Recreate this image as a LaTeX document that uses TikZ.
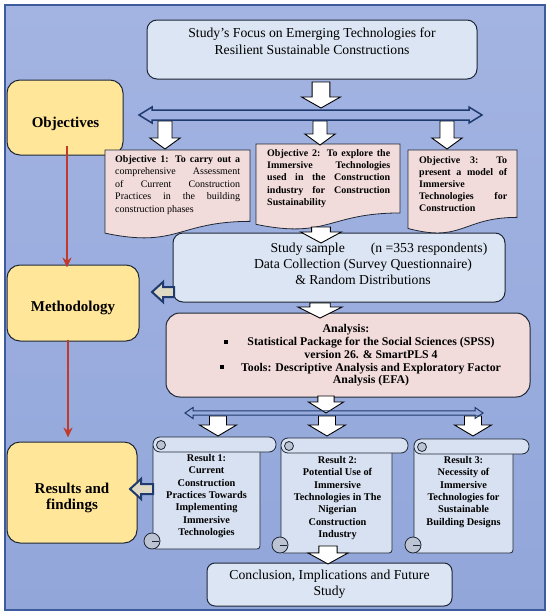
\documentclass[tikz,border=0pt]{standalone}
\usepackage{fontspec}
\setmainfont{Liberation Serif}
\usetikzlibrary{calc, arrows.meta}

\hyphenpenalty=10000
\exhyphenpenalty=10000

\definecolor{frametop}{HTML}{A3B4E2}
\definecolor{framebot}{HTML}{92A6DA}
\definecolor{frameline}{HTML}{3D5C9E}
\definecolor{edge}{HTML}{1E2735}
\definecolor{boxblue}{HTML}{DCE5F3}
\definecolor{boxpink}{HTML}{F2DCDB}
\definecolor{boxyellow}{HTML}{FFE699}
\definecolor{scrollblue}{HTML}{D8E1F1}
\definecolor{curl}{HTML}{BCC3D2}
\definecolor{hubfill}{HTML}{EFEBD2}
\definecolor{hubline}{HTML}{1F3A6E}
\definecolor{backfill}{HTML}{DDD9C3}
\definecolor{redline}{HTML}{C0392B}

\tikzset{
  box/.style={draw=edge, line width=1pt, inner sep=0pt, rounded corners=10pt},
  bluebox/.style={box, fill=boxblue},
  pinkbox/.style={box, fill=boxpink},
  yellowbox/.style={box, fill=boxyellow, rounded corners=13pt},
  docline/.style={draw=edge, line width=0.8pt, fill=boxpink},
  scrollline/.style={draw=edge, line width=0.8pt, fill=scrollblue},
  blockarrow/.style={draw=black, line width=0.9pt, fill=white},
  hubshape/.style={draw=hubline, line width=1.5pt, fill=hubfill},
  backshape/.style={draw=hubline, line width=2pt, fill=backfill},
  redarrow/.style={draw=redline, line width=2pt, -{Stealth[length=10pt,width=9pt]}},
  bigtext/.style={font=\fontsize{13.7}{16.3}\selectfont, align=center, inner sep=0pt},
  labeltext/.style={font=\fontsize{15}{16}\selectfont\bfseries, align=center, inner sep=0pt},
  objtext/.style={font=\fontsize{10}{12.5}\selectfont, align=justify, inner sep=0pt, anchor=north west},
  antext/.style={font=\fontsize{11.8}{12.8}\selectfont\bfseries, align=center, inner sep=0pt},
  restext/.style={font=\fontsize{10.3}{12.4}\selectfont\bfseries, align=center, inner sep=0pt, anchor=north}
}

% block arrow pointing down, [width factor]{from}{to}
\newcommand{\dnarrow}[3][1]{%
  \draw[blockarrow] let \p1=(#2), \p2=(#3) in
    (\x1-8.5pt*#1,\y1) -- (\x1+8.5pt*#1,\y1) -- (\x1+8.5pt*#1,\y2+11pt) -- (\x1+18.5pt*#1,\y2+11pt)
    -- (\x1,\y2) -- (\x1-18.5pt*#1,\y2+11pt) -- (\x1-8.5pt*#1,\y2+11pt) -- cycle;}
% double headed bar: {left}{right}{half shaft}{half head}{head length}
\newcommand{\hubarrow}[5]{%
  \draw let \p1=(#1), \p2=(#2) in
    (\x1,\y1) -- (\x1+#5,\y1+#4) -- (\x1+#5,\y1+#3) -- (\x2-#5,\y1+#3) -- (\x2-#5,\y1+#4)
    -- (\x2,\y1) -- (\x2-#5,\y1-#4) -- (\x2-#5,\y1-#3) -- (\x1+#5,\y1-#3) -- (\x1+#5,\y1-#4) -- cycle;}
% hollow arrow pointing left: {base}{tip}
\newcommand{\backarrow}[2]{%
  \draw[backshape] let \p1=(#1), \p2=(#2) in
    (\x2,\y2) -- (\x2+11pt,\y2+10pt) -- (\x2+11pt,\y2+5pt) -- (\x1,\y2+5pt)
    -- (\x1,\y2-5pt) -- (\x2+11pt,\y2-5pt) -- (\x2+11pt,\y2-10pt) -- cycle;}
% document shape: {left}{right}{top}{height}
\newcommand{\docshape}[4]{%
  \filldraw[docline] (#1,#3) -- (#2,#3) -- (#2,#3+0.802*#4)
    .. controls ({(#1+#2)/2},#3+0.802*#4) and ({(#1+#2)/2},#3+1.1075*#4) .. (#1,#3+0.934*#4) -- cycle;}
% scroll shape: {left}{right}{top}{bottom}
\newcommand{\scrollshape}[4]{%
  \filldraw[scrollline, rounded corners=3pt] (#1,#3+7) -- (#1,#4) -- (#2,#4) -- (#2,#3+7) -- cycle;
  \filldraw[scrollline, rounded corners=7pt] (#1,#3) rectangle (#2+16,#3+15);
  \filldraw[scrollline, fill=curl] (#1+8,#3+8) circle [radius=4.5];
  \filldraw[scrollline, fill=curl] (#1-1,#4-8) circle [radius=8];
  \draw[edge, line width=0.6pt] (#1-1,#4-8) -- (#1+6,#4-8);}

\begin{document}
\begin{tikzpicture}[x=1pt, y=-1pt]
  \useasboundingbox (0,0) rectangle (550,616);
  \shadedraw[top color=frametop, bottom color=framebot, draw=frameline, line width=1.2pt] (5,5) rectangle (545,610);

  \node[bluebox, minimum width=330pt, minimum height=59pt] (title) at (312,49.5) {};
  \node[yellowbox, minimum width=116pt, minimum height=75pt] (objbox) at (65,117.5) {};
  \node[yellowbox, minimum width=132pt, minimum height=76pt] (methbox) at (73,303) {};
  \node[yellowbox, minimum width=130pt, minimum height=101pt] (resbox) at (72,492.5) {};
  \node[bluebox, minimum width=332pt, minimum height=69pt] (study) at (339,267.5) {};
  \node[pinkbox, minimum width=364pt, minimum height=84pt, rounded corners=14pt] (analysis) at (348,355) {};
  \node[bluebox, bigtext, minimum width=245pt, minimum height=43pt, rounded corners=8pt] (concl) at (329.5,584.5)
    {Conclusion, Implications and Future\\Study};

  \docshape{105}{250}{150}{89}
  \docshape{256}{400}{144}{86}
  \docshape{408}{517}{150}{84}

  \scrollshape{153}{260}{437}{549}
  \scrollshape{281}{392}{438}{553}
  \scrollshape{414}{513}{439}{553}

  \draw[redarrow] ([xshift=2pt,yshift=10pt]objbox.south) -- ([xshift=-6pt,yshift=-3pt]methbox.north);
  \draw[redarrow] ([xshift=-5pt,yshift=2pt]methbox.south) -- ([xshift=-4pt,yshift=4pt]resbox.north);

  \coordinate (focus1) at (321,82);
  \coordinate (focus2) at (321,108);
  \dnarrow[1.05]{focus1}{focus2}
  \foreach \xa/\yb [count=\i] in {165/149, 320/145, 447/149} {
    \coordinate (up\i) at (\xa,121);
    \coordinate (dn\i) at (\xa,\yb);
    \dnarrow[0.82]{up\i}{dn\i}
  }
  \coordinate (hubL) at (139,115);
  \coordinate (hubR) at (482,115);
  \begin{scope}[hubshape]
    \hubarrow{hubL}{hubR}{5pt}{8pt}{13pt}
  \end{scope}

  \coordinate (obj2b) at (321,227);
  \coordinate (studyt) at (321,243);
  \dnarrow[1.1]{obj2b}{studyt}
  \coordinate (studyb) at (320,303);
  \coordinate (anat) at (320,318);
  \dnarrow[1.2]{studyb}{anat}
  \coordinate (anab) at (326,396);
  \coordinate (splitt) at (326,413);
  \dnarrow[0.95]{anab}{splitt}
  \foreach \xa [count=\i] in {218, 327, 473} {
    \coordinate (rup\i) at (\xa,416);
    \coordinate (rdn\i) at (\xa,436);
    \dnarrow{rup\i}{rdn\i}
  }
  \coordinate (splitL) at (185,413);
  \coordinate (splitR) at (483,413);
  \begin{scope}[hubshape, line width=1pt]
    \hubarrow{splitL}{splitR}{2.2pt}{5.5pt}{8pt}
  \end{scope}
  \coordinate (res2b) at (328,546);
  \coordinate (conclt) at (328,564);
  \dnarrow[1.08]{res2b}{conclt}

  \coordinate (studyl) at (174,292);
  \coordinate (methr) at (152,292);
  \backarrow{studyl}{methr}
  \coordinate (res1l) at (153,489);
  \coordinate (findr) at (130,489);
  \backarrow{res1l}{findr}

  \node[bigtext, anchor=north] (titletext) at (312,28)
    {Study's Focus on Emerging Technologies for\\Resilient Sustainable Constructions};
  \node[labeltext, anchor=base] (objlabel) at (65.5,127.7) {Objectives};
  \node[labeltext, anchor=base] (methlabel) at (73,311) {Methodology};
  \node[labeltext, anchor=north] (reslabel) at (72,482.4) {Results and\\findings};

  \node[objtext, text width=125pt] (obj1) at (115,155)
    {\textbf{Objective 1: To carry out a}\linebreak comprehensive Assessment\linebreak of Current Construction\linebreak Practices in the building\linebreak construction phases};
  \node[objtext, text width=123pt, font=\fontsize{10}{12.3}\selectfont\bfseries] (obj2) at (267,149)
    {Objective 2: To explore the\linebreak Immersive Technologies\linebreak used in the Construction\linebreak industry for Construction\linebreak Sustainability};
  \node[objtext, text width=88pt, font=\fontsize{10}{12}\selectfont\bfseries] (obj3) at (419,156)
    {Objective 3: To\linebreak present a model of\linebreak Immersive\\Technologies for\linebreak Construction};

  \node[bigtext, anchor=north] (studytext) at (363,242.5)
    {\hspace*{32pt}Study sample\hspace{26pt}(n =353 respondents)\\Data Collection (Survey Questionnaire)\\\& Random Distributions};

  \node[antext, anchor=base] (anhead) at (346,332) {Analysis:};
  \node[antext, anchor=north] (anitems) at (371,337)
    {Statistical Package for the Social Sciences (SPSS)\\version 26. \& SmartPLS 4\\Tools: Descriptive Analysis and Exploratory Factor\\Analysis (EFA)};
  \fill (224,340) rectangle (228,344);
  \fill (220,365) rectangle (224,369);

  \node[restext] (res1) at (206.5,454)
    {Result 1:\\Current\\Construction\\Practices Towards\\Implementing\\Immersive\\Technologies};
  \node[restext] (res2) at (337.5,456)
    {Result 2:\\Potential Use of\\Immersive\\Technologies in The\\Nigerian\\Construction\\Industry};
  \node[restext] (res3) at (463.5,456)
    {Result 3:\\Necessity of\\Immersive\\Technologies for\\Sustainable\\Building Designs};
\end{tikzpicture}
\end{document}
